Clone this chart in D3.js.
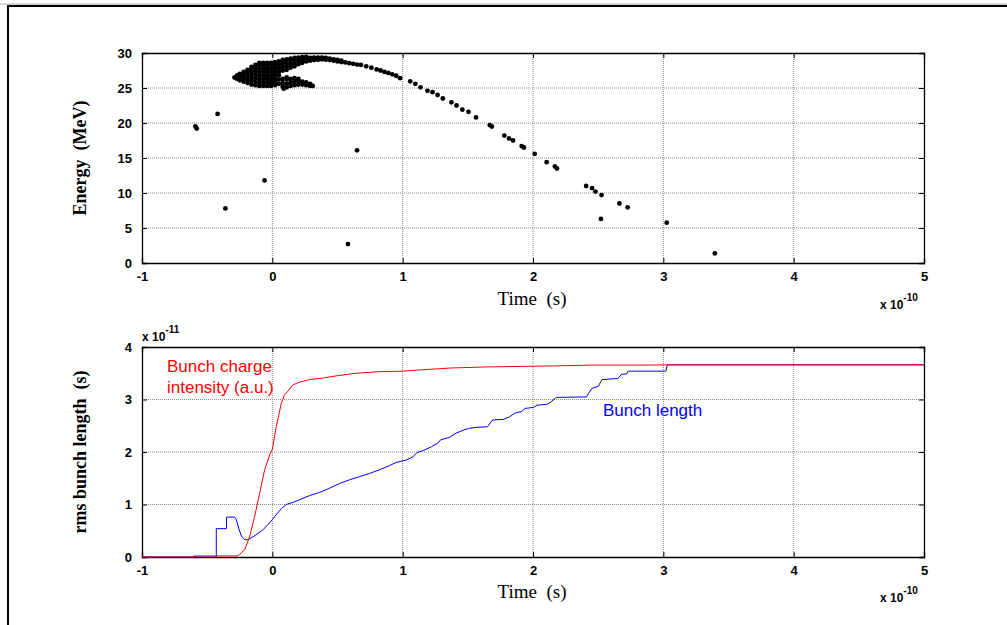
<!DOCTYPE html>
<html><head><meta charset="utf-8">
<script src="https://cdn.jsdelivr.net/npm/d3@7/dist/d3.min.js"></script>
<style>body{margin:0;background:#fff}svg{display:block}</style>
</head><body>
<svg id="c" width="1007" height="625"></svg>
<script>
// ---------- DATA ----------
const timeTicks = [-1, 0, 1, 2, 3, 4, 5];
const energyTicks = [0, 5, 10, 15, 20, 25, 30];
const lengthTicks = [0, 1, 2, 3, 4];

// isolated particles [time (1e-10 s), energy (MeV)]
const outlierPoints = [[-0.59,19.5],[-0.58,19.2],[-0.42,21.3],[-0.36,7.8],[-0.06,11.8],[0.58,2.7],[0.65,16.1],[0.087,24.9]];
// dense bunch core
const corePoints = [
 [-0.29,26.5],[-0.27,26.3],[-0.27,26.8],[-0.25,26.1],[-0.25,26.6],[-0.25,27.0],
 [-0.22,25.9],[-0.22,26.4],[-0.22,26.9],[-0.22,27.3],
 [-0.19,25.7],[-0.19,26.2],[-0.19,26.7],[-0.19,27.2],[-0.19,27.6],
 [-0.16,25.5],[-0.16,26.0],[-0.16,26.5],[-0.16,27.0],[-0.16,27.5],[-0.16,28.0],
 [-0.13,25.4],[-0.13,25.9],[-0.13,26.4],[-0.13,26.9],[-0.13,27.4],[-0.13,27.9],[-0.13,28.3],
 [-0.10,25.3],[-0.10,25.8],[-0.10,26.3],[-0.10,26.8],[-0.10,27.3],[-0.10,27.8],[-0.10,28.3],[-0.10,28.6],
 [-0.07,25.3],[-0.07,25.8],[-0.07,26.3],[-0.07,26.8],[-0.07,27.3],[-0.07,27.8],[-0.07,28.3],[-0.07,28.6],
 [-0.04,25.3],[-0.04,25.8],[-0.04,26.3],[-0.04,26.8],[-0.04,27.3],[-0.04,27.8],[-0.04,28.3],[-0.04,28.6],
 [-0.01,25.3],[-0.01,25.8],[-0.01,26.3],[-0.01,26.8],[-0.01,27.3],[-0.01,27.8],[-0.01,28.3],[-0.01,28.6],
 [0.02,25.4],[0.02,25.9],[0.02,26.4],[0.02,26.9],[0.02,27.4],[0.02,27.9],[0.02,28.4],[0.02,28.7],
 [0.05,25.6],[0.05,26.2],[0.05,26.8],[0.05,27.3],[0.05,27.8],[0.05,28.3],[0.05,28.8],
 [0.08,27.5],[0.08,28.0],[0.08,28.5],[0.08,29.0],[0.08,25.2],[0.08,25.7],[0.08,26.3],
 [0.11,27.6],[0.11,28.1],[0.11,28.6],[0.11,29.1],[0.11,25.1],[0.11,25.6],[0.11,26.2],[0.11,26.5],
 [0.14,27.9],[0.14,28.4],[0.14,28.9],[0.14,29.2],[0.14,25.3],[0.14,25.8],[0.14,26.3],
 [0.17,28.1],[0.17,28.6],[0.17,29.0],[0.17,29.3],[0.17,25.4],[0.17,25.9],[0.17,26.4],
 [0.20,28.4],[0.20,28.9],[0.20,29.35],[0.20,25.5],[0.20,26.0],[0.20,26.3],
 [0.23,28.6],[0.23,29.0],[0.23,29.4],[0.23,25.5],[0.23,25.9],
 [0.26,28.8],[0.26,29.2],[0.26,29.45],[0.26,25.4],[0.26,25.8],
 [0.29,28.9],[0.29,29.3],[0.29,25.3],[0.29,25.6],[0.31,25.3]
];
// energy-chirped tail
const tailPoints = [
 [0.32,29.0],[0.32,29.35],[0.35,29.05],[0.35,29.35],[0.38,29.1],[0.38,29.35],[0.41,29.05],[0.41,29.3],
 [0.44,29.0],[0.44,29.2],[0.47,28.9],[0.47,29.1],[0.50,28.8],[0.50,29.0],[0.53,28.7],[0.53,28.9],
 [0.56,28.65],[0.59,28.55],[0.62,28.45],[0.65,28.35],[0.68,28.3],[0.72,28.1],[0.76,27.9],[0.80,27.65],
 [0.83,27.5],[0.86,27.3],[0.89,27.15],[0.92,26.95],[0.95,26.75],
 [0.98,26.4],[1.058,25.95],[1.097,25.6],[1.137,25.1],[1.19,24.6],[1.229,24.4],[1.268,24.0],[1.308,23.5],
 [1.374,22.95],[1.413,22.5],[1.458,21.9],[1.505,21.6],[1.563,20.8],[1.668,19.7],[1.684,19.5],
 [1.78,18.2],[1.816,17.8],[1.847,17.5],[1.913,16.7],[1.93,16.5],[2.013,15.6],[2.105,14.4],
 [2.168,13.8],[2.184,13.5],[2.408,11.0],[2.453,10.7],[2.479,10.2],[2.526,9.7],[2.521,6.3],
 [2.663,8.5],[2.726,7.95],[3.026,5.76],[3.395,1.38]
];

// bottom panel: rms bunch length (1e-11 s) vs time (1e-10 s)
const chargeCurve = [
 [-1,0],[-0.6,0],[-0.6,0.02],[-0.27,0.02],[-0.25,0.05],[-0.21,0.145],[-0.173,0.4],[-0.135,0.78],
 [-0.097,1.22],[-0.059,1.66],[-0.02,1.95],[0,2.05],[0.03,2.48],[0.069,2.93],[0.094,3.09],[0.12,3.16],
 [0.158,3.28],[0.209,3.33],[0.286,3.38],[0.39,3.41],[0.49,3.45],[0.64,3.5],[0.82,3.53],[1.0,3.54],
 [1.11,3.56],[1.37,3.6],[1.64,3.62],[1.9,3.63],[2.16,3.64],[2.45,3.655],[2.82,3.655],[3.03,3.66],[5,3.66]
];
const lengthCurve = [
 [-1,0],[-0.43,0],[-0.43,0.54],[-0.352,0.54],[-0.352,0.76],[-0.288,0.76],[-0.276,0.71],[-0.255,0.52],
 [-0.237,0.40],[-0.212,0.33],[-0.186,0.33],[-0.148,0.385],[-0.11,0.45],[-0.071,0.52],[-0.033,0.62],
 [0,0.71],[0.031,0.81],[0.069,0.92],[0.107,1.0],[0.158,1.04],[0.209,1.09],[0.286,1.17],[0.362,1.23],
 [0.439,1.31],[0.515,1.4],[0.592,1.47],[0.668,1.53],[0.745,1.59],[0.821,1.66],[0.898,1.74],[0.949,1.8],
 [1.03,1.85],[1.08,1.91],[1.11,1.99],[1.16,2.03],[1.22,2.1],[1.27,2.17],[1.29,2.23],[1.36,2.28],
 [1.41,2.36],[1.47,2.42],[1.505,2.45],[1.57,2.47],[1.65,2.48],[1.69,2.61],[1.77,2.62],[1.82,2.67],
 [1.86,2.74],[1.91,2.77],[1.94,2.83],[2.005,2.85],[2.03,2.89],[2.11,2.91],[2.14,2.96],[2.18,3.04],
 [2.41,3.05],[2.43,3.13],[2.45,3.21],[2.5,3.25],[2.53,3.38],[2.65,3.4],[2.68,3.48],[2.72,3.49],
 [2.73,3.54],[3.02,3.54],[3.03,3.66],[5,3.66]
];

// ---------- DRAW ----------
const svg = d3.select('#c');
const x = d3.scaleLinear().domain([-1,5]).range([142,924]);
const yTop = d3.scaleLinear().domain([0,30]).range([263,53]);
const yBot = d3.scaleLinear().domain([0,4]).range([557,347]);

// outer frame
svg.append('line').attr('x1',0).attr('x2',1007).attr('y1',4).attr('y2',4).attr('stroke','#aaa').attr('stroke-width',1);
svg.append('line').attr('x1',7).attr('x2',1007).attr('y1',6).attr('y2',6).attr('stroke','#000').attr('stroke-width',2);
svg.append('line').attr('x1',8).attr('x2',8).attr('y1',5).attr('y2',625).attr('stroke','#000').attr('stroke-width',2);

function panel(y, yTicks) {
  const g = svg.append('g');
  const [y0, y1] = y.range();
  // grid
  g.selectAll('.gx').data(timeTicks.slice(1,-1)).join('line')
    .attr('x1',d=>x(d)).attr('x2',d=>x(d)).attr('y1',y1).attr('y2',y0)
    .attr('stroke','#8a8a8a').attr('stroke-width',1).attr('stroke-dasharray','1,1');
  g.selectAll('.gy').data(yTicks.slice(1,-1)).join('line')
    .attr('x1',x(-1)).attr('x2',x(5)).attr('y1',d=>y(d)).attr('y2',d=>y(d))
    .attr('stroke','#8a8a8a').attr('stroke-width',1).attr('stroke-dasharray','1,1');
  // axes with inner ticks
  const fmt = d => String(d);
  const ax = (axis, tr) => g.append('g').attr('transform',tr).call(axis)
    .call(s=>s.select('.domain').attr('stroke','#000').attr('stroke-width',1.3));
  ax(d3.axisBottom(x).tickValues(timeTicks).tickSize(-5).tickPadding(9).tickFormat(fmt), `translate(0,${y0})`);
  ax(d3.axisTop(x).tickValues(timeTicks).tickSize(-5).tickFormat(''), `translate(0,${y1})`);
  ax(d3.axisLeft(y).tickValues(yTicks).tickSize(-5).tickPadding(10).tickFormat(fmt), `translate(${x(-1)},0)`);
  ax(d3.axisRight(y).tickValues(yTicks).tickSize(-5).tickFormat(''), `translate(${x(5)},0)`);
  g.selectAll('.tick line').attr('stroke','#000');
  g.selectAll('.tick text').attr('font-family','Liberation Sans, Arial, sans-serif')
    .attr('font-weight','bold').attr('font-size',13).attr('fill','#000');
  return g;
}

const gTop = panel(yTop, energyTicks);
const gBot = panel(yBot, lengthTicks);

// scatter
const allPts = corePoints.concat(tailPoints, outlierPoints);
gTop.append('g').selectAll('circle').data(allPts).join('circle')
  .attr('cx',d=>x(d[0])).attr('cy',d=>yTop(d[1])).attr('r',2.4).attr('fill','#000');

// lines
const line = d3.line().x(d=>x(d[0])).y(d=>yBot(d[1]));
gBot.append('path').datum(lengthCurve).attr('d',line).attr('fill','none').attr('stroke','#0000ff').attr('stroke-width',1);
gBot.append('path').datum(chargeCurve).attr('d',line).attr('fill','none').attr('stroke','#ff0000').attr('stroke-width',1);

// labels
const serif = 'Liberation Serif, Times New Roman, serif';
const sans = 'Liberation Sans, Arial, sans-serif';
function ylab(text, cy) {
  svg.append('text').attr('transform',`translate(86,${cy}) rotate(-90)`).attr('text-anchor','middle')
    .attr('font-family',serif).attr('font-weight','bold').attr('font-size',18)
    .style('white-space','pre').text(text);
}
ylab('Energy  (MeV)', 158);
ylab('rms bunch length  (s)', 452);
function xlab(cy) {
  svg.append('text').attr('x',532).attr('y',cy).attr('text-anchor','middle')
    .attr('font-family',serif).attr('font-size',19).style('white-space','pre').text('Time  (s)');
}
xlab(305); xlab(598);
function expo(xp, yp, e) {
  const t = svg.append('text').attr('x',xp).attr('y',yp).attr('font-family',sans).attr('font-weight','bold').attr('font-size',12);
  t.append('tspan').text('x 10');
  t.append('tspan').attr('dy',-8).attr('font-size',10).text(e);
}
expo(880, 309, '-10');
expo(880, 602, '-10');
expo(142, 341, '-11');

svg.append('text').attr('x',167).attr('y',372).attr('fill','#ff0000').attr('font-family',sans).attr('font-size',17).text('Bunch charge');
svg.append('text').attr('x',167).attr('y',393).attr('fill','#ff0000').attr('font-family',sans).attr('font-size',17).text('intensity (a.u.)');
svg.append('text').attr('x',603).attr('y',416).attr('fill','#0000ff').attr('font-family',sans).attr('font-size',17).text('Bunch length');
</script>
</body></html>
